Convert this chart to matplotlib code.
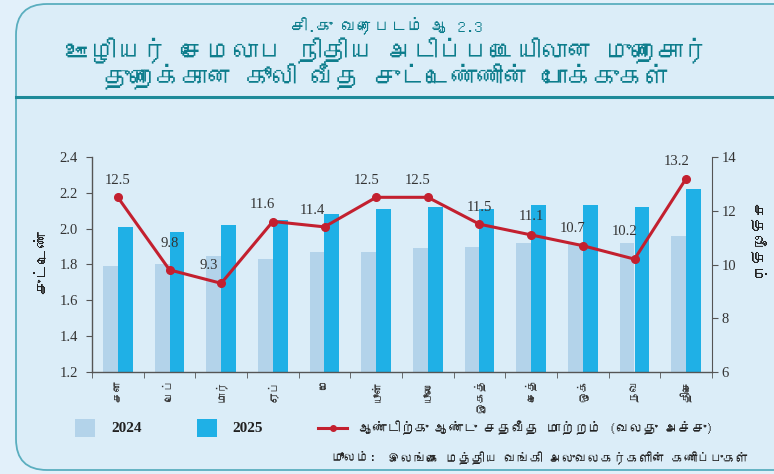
import matplotlib
matplotlib.use("Agg")
import matplotlib.pyplot as plt
from matplotlib import font_manager
from matplotlib.patches import FancyBboxPatch, Rectangle
from matplotlib.lines import Line2D
import numpy as np

# ---------------- data ----------------
months = ["சன", "பெப்", "மார்", "ஏப்", "மே", "யூன்", "யூலை", "ஓகத்", "செத்", "ஒக்", "நவ", "திசெ"]
index_2024 = [1.79, 1.80, 1.85, 1.83, 1.87, 1.87, 1.89, 1.90, 1.92, 1.92, 1.92, 1.96]
index_2025 = [2.01, 1.98, 2.02, 2.05, 2.08, 2.11, 2.12, 2.11, 2.13, 2.13, 2.12, 2.22]
yoy_change = [12.5, 9.8, 9.3, 11.6, 11.4, 12.5, 12.5, 11.5, 11.1, 10.7, 10.2, 13.2]
series_names = ["2024", "2025", "ஆண்டிற்கு ஆண்டு சதவீத மாற்றம் (வலது அச்சு)"]
left_ticks = [1.2, 1.4, 1.6, 1.8, 2.0, 2.2, 2.4]
right_ticks = [6, 8, 10, 12, 14]
title_lines = ["சி.கு வரைபடம் ஆ 2.3",
               "ஊழியர் சேமலாப நிதிய அடிப்படையிலான முறைசார்",
               "துறைக்கான கூலி வீத சுட்டெண்ணின் போக்குகள்"]
left_label = "சுட்டெண்"
right_label = "சதவீதம்"
source_head = "மூலம்:"
source_text = "இலங்கை மத்திய வங்கி அலுவலகர்களின் கணிப்புகள்"

# label placement (pixel offsets from each point; layout only)
label_dx = [0, 0, -12, -10, -12, -10, -10, 0, 0, -10, -10, -10]
label_dy = [17, 26, 18, 17, 16, 17, 17, 17, 18, 17, 28, 17]

# ---------------- fonts ----------------
tamil_font = None
try:
    from fontTools.ttLib import TTFont
    for fe in font_manager.fontManager.ttflist:
        try:
            f = TTFont(fe.fname, fontNumber=0, lazy=True)
            cmap = f.getBestCmap()
            if cmap and 0x0B95 in cmap:
                tamil_font = fe.name
                break
        except Exception:
            pass
except Exception:
    pass
fam = ([tamil_font] if tamil_font else []) + ["DejaVu Sans"]
num_font = "Liberation Serif"

# ---------------- colours ----------------
bg = "#e2f0fa"
inner = "#dbedf8"
teal = "#0d7d8c"
c24 = "#b3d3ea"
c25 = "#1fb0e6"
red = "#c3202f"
spine_c = "#555555"

fig = plt.figure(figsize=(7.74, 4.74), dpi=100)
fig.patch.set_facecolor(bg)

W, H = 774, 474
def fx(px):
    return px / W
def fy(py):
    return 1 - py / H

# outer frame
frame = FancyBboxPatch((fx(16), 4 / H), (W + 30) / W, (H - 8) / H,
                       boxstyle="round,pad=0,rounding_size=0.04",
                       transform=fig.transFigure, facecolor=inner,
                       edgecolor="#5aaebf", linewidth=1.3, zorder=-5,
                       mutation_aspect=W / H)
fig.patches.append(frame)
fig.add_artist(Line2D([fx(16), 1.0], [fy(97), fy(97)], transform=fig.transFigure,
                      color="#1d8a99", linewidth=2.2, zorder=-4))

# titles
fig.text(0.5, fy(25), title_lines[0], ha="center", va="center", color=teal,
         fontsize=12, family=fam)
fig.text(0.5, fy(51), title_lines[1], ha="center", va="center", color=teal,
         fontsize=18.5, family=fam)
fig.text(0.5, fy(77), title_lines[2], ha="center", va="center", color=teal,
         fontsize=18.5, family=fam)

# ---------------- axes ----------------
ax = fig.add_axes([fx(92), fy(372), 620 / W, 215 / H])
ax.set_facecolor("none")
x = np.arange(len(months))
bw = 0.29
ax.bar(x - bw / 2, index_2024, width=bw, color=c24, zorder=2)
ax.bar(x + bw / 2, index_2025, width=bw, color=c25, zorder=2)
ax.set_ylim(1.2, 2.4)
ax.set_xlim(-0.5, len(months) - 0.5)
ax.set_yticks(left_ticks)
ax.set_yticklabels([f"{v:.1f}" for v in left_ticks], family=num_font, fontsize=10.5,
                   color="#333333")
ax.set_xticks(x)
ax.set_xticklabels(months, rotation=90, family=fam, fontsize=8.3, color="#333333")
ax.tick_params(axis="x", which="major", length=0, pad=5)
ax.set_xticks(np.arange(-0.5, len(months), 1.0), minor=True)
ax.tick_params(axis="x", which="minor", length=4, color=spine_c, direction="out")
ax.tick_params(axis="y", length=4, color=spine_c, direction="out", pad=6)
for s in ["top", "right"]:
    ax.spines[s].set_visible(False)
for s in ["left", "bottom"]:
    ax.spines[s].set_color(spine_c)
    ax.spines[s].set_linewidth(1.0)
ax.set_ylabel(left_label, family=fam, fontsize=11.5, color="#222222",
              fontweight="bold", va="center")
ax.yaxis.set_label_coords(-0.08, 0.51)

ax2 = ax.twinx()
ax2.set_ylim(6, 14)
ax2.set_yticks(right_ticks)
ax2.set_yticklabels([str(v) for v in right_ticks], family=num_font, fontsize=10.5,
                    color="#333333")
ax2.tick_params(axis="y", length=4, color=spine_c, direction="out", pad=3)
for s in ["top", "left", "bottom"]:
    ax2.spines[s].set_visible(False)
ax2.spines["right"].set_color(spine_c)
ax2.plot(x, yoy_change, color=red, linewidth=2.2, marker="o", markersize=5.5, zorder=5)
for xi, v, dx, dy in zip(x, yoy_change, label_dx, label_dy):
    ax2.annotate(f"{v}", (xi, v), xytext=(dx * 0.72, dy * 0.72), textcoords="offset points",
                 ha="center", va="center", family=num_font, fontsize=10.5, color="#333333")
ax2.set_ylabel(right_label, family=fam, fontsize=11.5, color="#222222", rotation=270,
               fontweight="bold", va="center")
ax2.yaxis.set_label_coords(1.072, 0.6)

# ---------------- legend (manual) ----------------
ly = 428
fig.add_artist(Rectangle((fx(75), fy(ly + 9)), 20 / W, 18 / H, transform=fig.transFigure,
                         facecolor=c24, edgecolor="none"))
fig.text(fx(111), fy(ly), series_names[0], ha="left", va="center", family=num_font,
         fontsize=11, fontweight="bold", color="#222222")
fig.add_artist(Rectangle((fx(197), fy(ly + 9)), 20 / W, 18 / H, transform=fig.transFigure,
                         facecolor=c25, edgecolor="none"))
fig.text(fx(232), fy(ly), series_names[1], ha="left", va="center", family=num_font,
         fontsize=11, fontweight="bold", color="#222222")
fig.add_artist(Line2D([fx(318), fx(347)], [fy(ly), fy(ly)], transform=fig.transFigure,
                      color=red, linewidth=2.2))
fig.add_artist(Line2D([fx(332.5)], [fy(ly)], transform=fig.transFigure, color=red,
                      marker="o", markersize=4, linestyle="none"))
fig.text(fx(359), fy(ly), series_names[2], ha="left", va="center", family=fam,
         fontsize=10, color="#222222")

# source
src = fig.text(fx(749), fy(458), source_text, ha="right", va="center", family=fam,
               fontsize=9.3, color="#222222")
fig.canvas.draw()
bb = src.get_window_extent()
fig.text((bb.x0 - 12) / W, fy(458), source_head, ha="right", va="center", family=fam,
         fontsize=9.3, color="#222222", style="italic")

fig.savefig("out.png", dpi=100, facecolor=fig.get_facecolor())
